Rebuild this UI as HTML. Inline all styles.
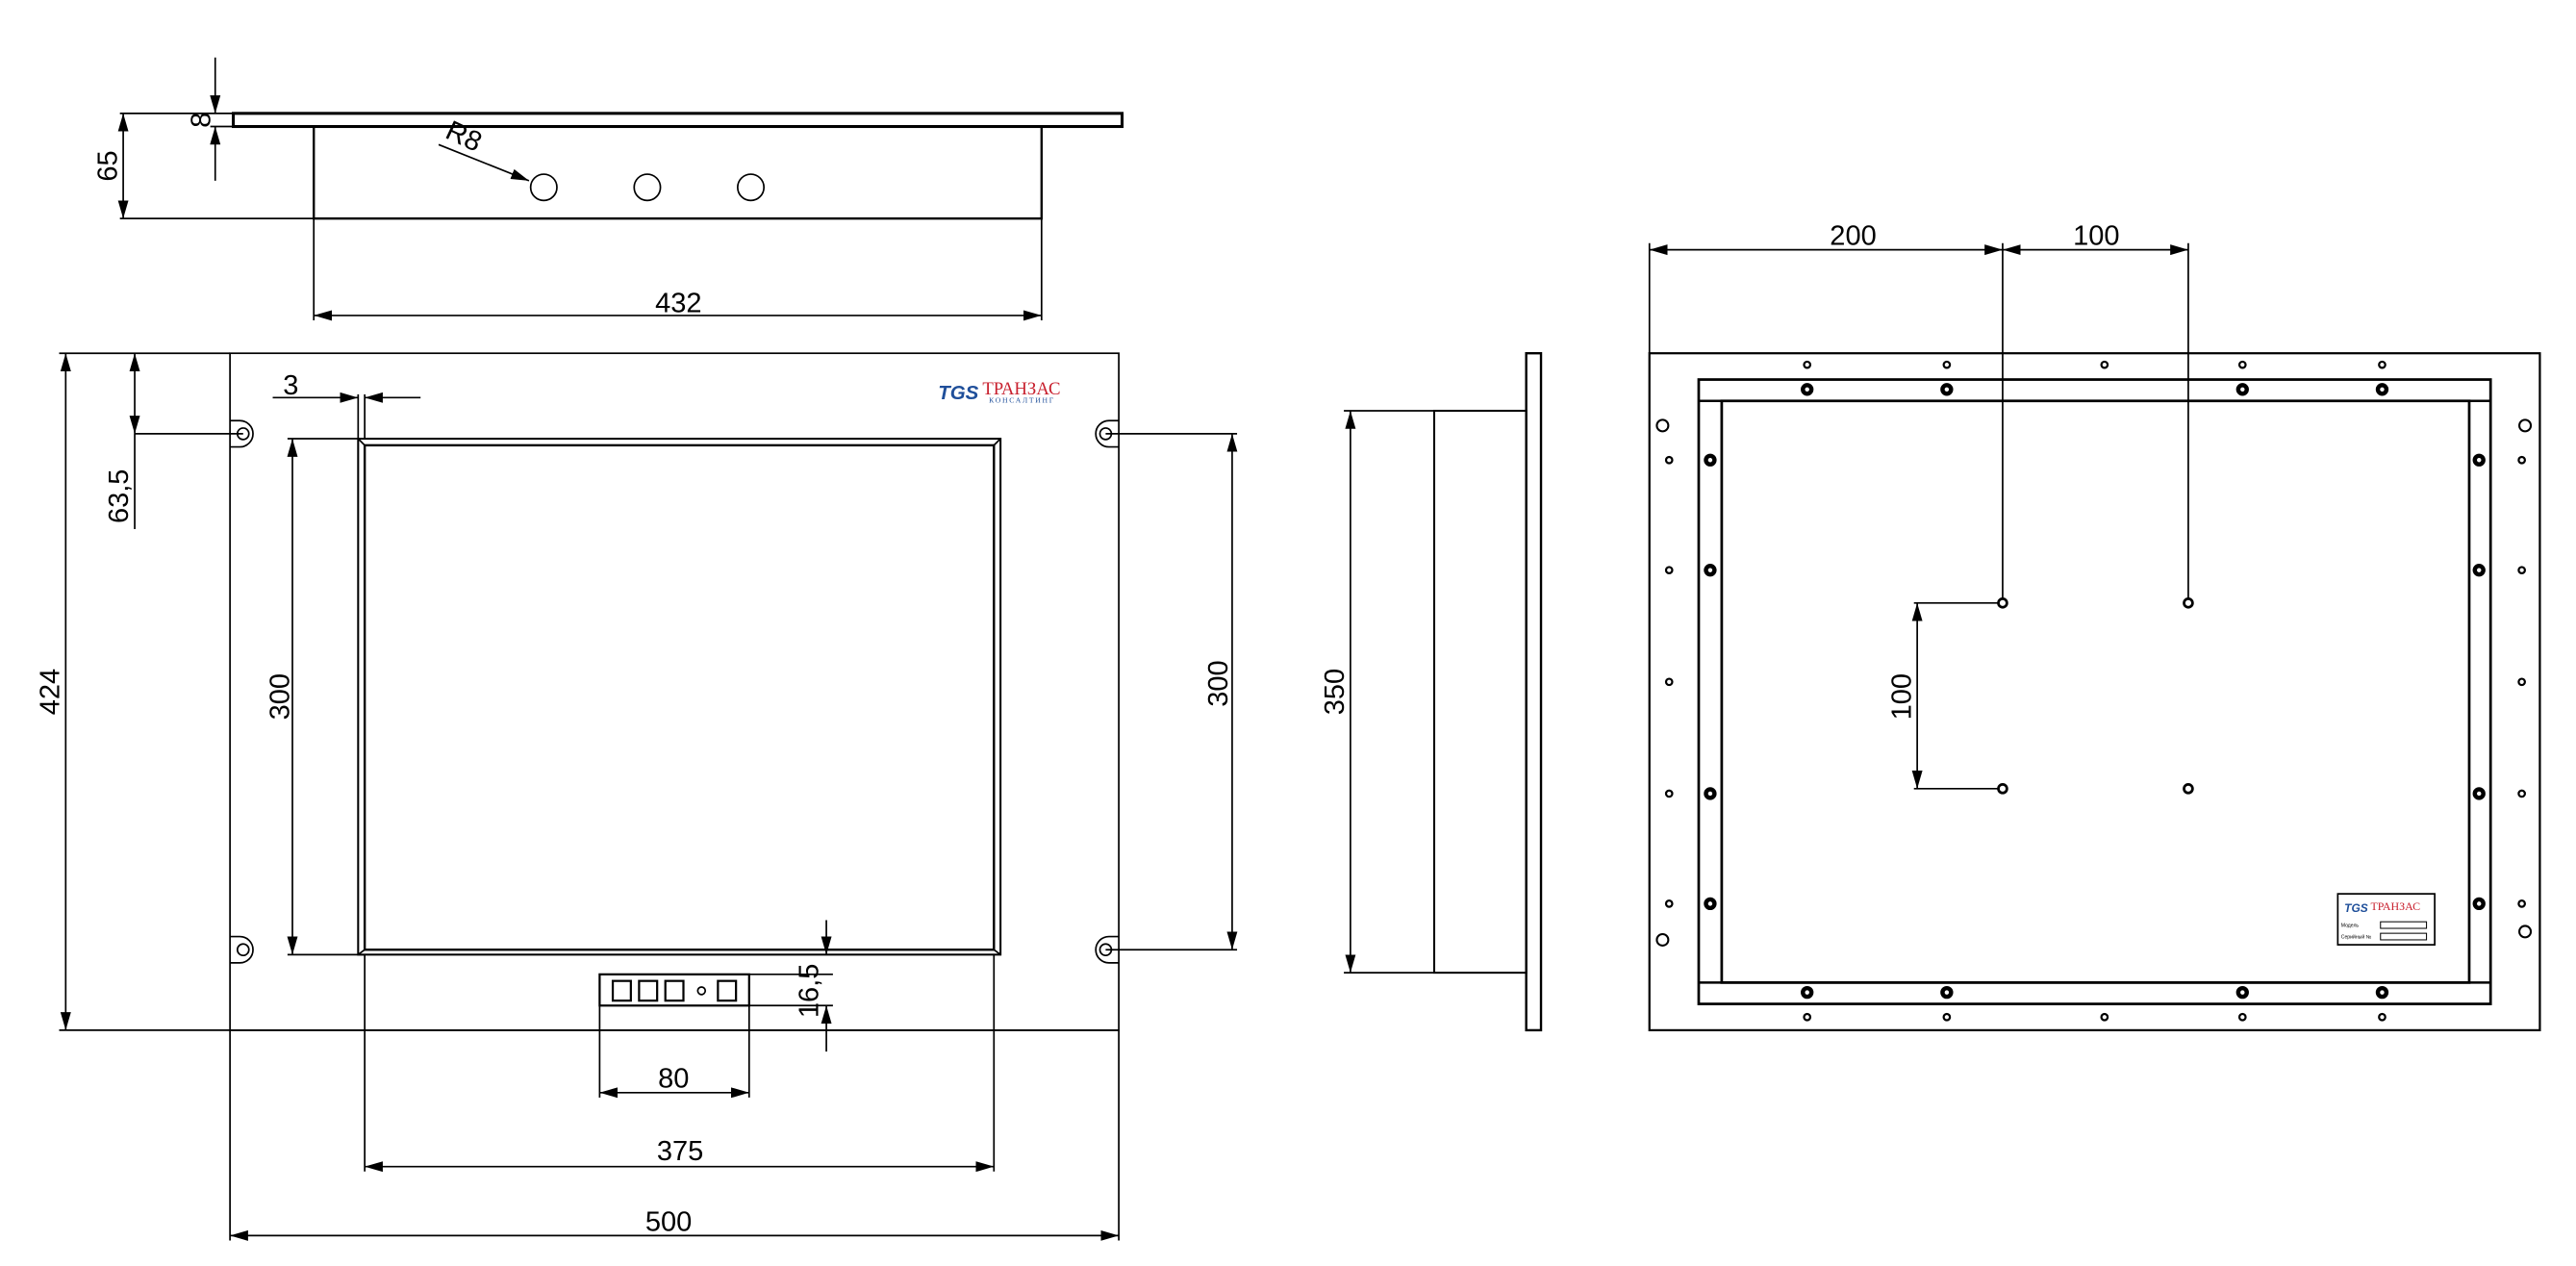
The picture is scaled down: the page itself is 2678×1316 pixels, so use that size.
<!DOCTYPE html>
<html><head><meta charset="utf-8"><style>html,body{margin:0;padding:0;background:#fff}svg{display:block}</style></head><body>
<svg xmlns="http://www.w3.org/2000/svg" width="2678" height="1316" viewBox="0 0 1568 770.5" preserveAspectRatio="none">
<defs>
<marker id="a" markerUnits="userSpaceOnUse" markerWidth="12" markerHeight="8" refX="11" refY="4" orient="auto-start-reverse"><path d="M0,0.8 L11,4 L0,7.2 Z" fill="#000"/></marker>
</defs>
<g fill="none" stroke="#000" stroke-width="1" font-family="Liberation Sans, Arial, sans-serif">
<!-- TOP VIEW -->
<rect x="142" y="69" width="541" height="8" stroke-width="1.8"/>
<rect x="191" y="77" width="443" height="56" stroke-width="1.4"/>
<circle cx="331" cy="114" r="8"/><circle cx="394" cy="114" r="8"/><circle cx="457" cy="114" r="8"/>
<line x1="73" y1="69" x2="142" y2="69"/><line x1="73" y1="133" x2="191" y2="133"/>
<line x1="75" y1="69" x2="75" y2="133" marker-start="url(#a)" marker-end="url(#a)"/>
<line x1="131" y1="35" x2="131" y2="69" marker-end="url(#a)"/>
<line x1="131" y1="110" x2="131" y2="77" marker-end="url(#a)"/>
<line x1="128" y1="77" x2="142" y2="77"/>
<line x1="267" y1="88" x2="322" y2="110" marker-end="url(#a)"/>
<line x1="191" y1="133" x2="191" y2="195"/><line x1="634" y1="133" x2="634" y2="195"/>
<line x1="191" y1="192" x2="634" y2="192" marker-start="url(#a)" marker-end="url(#a)"/>
<!-- FRONT VIEW -->
<rect x="140" y="215" width="541" height="412"/>
<line x1="36" y1="215" x2="140" y2="215"/><line x1="36" y1="627" x2="140" y2="627"/>
<line x1="40" y1="215" x2="40" y2="627" marker-start="url(#a)" marker-end="url(#a)"/>
<line x1="82" y1="215" x2="82" y2="264" marker-start="url(#a)" marker-end="url(#a)"/>
<line x1="82" y1="264" x2="82" y2="322"/><line x1="82" y1="264" x2="148" y2="264"/>
<rect x="218" y="267" width="391" height="314" stroke-width="1.2"/>
<rect x="222" y="271" width="383" height="307" stroke-width="1.4"/>
<line x1="218" y1="267" x2="222" y2="271"/><line x1="609" y1="267" x2="605" y2="271"/><line x1="218" y1="581" x2="222" y2="578"/><line x1="609" y1="581" x2="605" y2="578"/>
<line x1="175" y1="267" x2="218" y2="267"/><line x1="175" y1="581" x2="222" y2="581"/>
<line x1="178" y1="267" x2="178" y2="581" marker-start="url(#a)" marker-end="url(#a)"/>
<line x1="218" y1="240" x2="218" y2="267"/><line x1="222" y1="240" x2="222" y2="267"/>
<line x1="166" y1="242" x2="218" y2="242" marker-end="url(#a)"/>
<line x1="256" y1="242" x2="222" y2="242" marker-end="url(#a)"/>
<g>
<path d="M140,256 h6 a8,8 0 0 1 0,16 h-6"/><circle cx="148" cy="264" r="3.5"/>
<path d="M140,570 h6 a8,8 0 0 1 0,16 h-6"/><circle cx="148" cy="578" r="3.5"/>
<path d="M681,256 h-6 a8,8 0 0 0 0,16 h6"/><circle cx="673" cy="264" r="3.5"/>
<path d="M681,570 h-6 a8,8 0 0 0 0,16 h6"/><circle cx="673" cy="578" r="3.5"/>
</g>
<line x1="673" y1="264" x2="753" y2="264"/><line x1="673" y1="578" x2="753" y2="578"/>
<line x1="750" y1="264" x2="750" y2="578" marker-start="url(#a)" marker-end="url(#a)"/>
<rect x="365" y="593" width="91" height="19" stroke-width="1.3"/>
<rect x="373" y="597" width="11" height="12" stroke-width="1.3"/><rect x="389" y="597" width="11" height="12" stroke-width="1.3"/><rect x="405" y="597" width="11" height="12" stroke-width="1.3"/>
<circle cx="427" cy="603" r="2.3"/><rect x="437" y="597" width="11" height="12" stroke-width="1.3"/>
<line x1="456" y1="593" x2="507" y2="593"/><line x1="456" y1="612" x2="507" y2="612"/>
<line x1="503" y1="560" x2="503" y2="581" marker-end="url(#a)"/>
<line x1="503" y1="640" x2="503" y2="612" marker-end="url(#a)"/>
<line x1="365" y1="612" x2="365" y2="668"/><line x1="456" y1="612" x2="456" y2="668"/>
<line x1="365" y1="665" x2="456" y2="665" marker-start="url(#a)" marker-end="url(#a)"/>
<line x1="222" y1="581" x2="222" y2="713"/><line x1="605" y1="581" x2="605" y2="713"/>
<line x1="222" y1="710" x2="605" y2="710" marker-start="url(#a)" marker-end="url(#a)"/>
<line x1="140" y1="627" x2="140" y2="755"/><line x1="681" y1="627" x2="681" y2="755"/>
<line x1="140" y1="627" x2="681" y2="627"/>
<line x1="140" y1="752" x2="681" y2="752" marker-start="url(#a)" marker-end="url(#a)"/>
<!-- SIDE VIEW -->
<rect x="929" y="215" width="9" height="412" stroke-width="1.4"/>
<rect x="873" y="250" width="56" height="342" stroke-width="1.2"/>
<line x1="818" y1="250" x2="873" y2="250"/><line x1="818" y1="592" x2="873" y2="592"/>
<line x1="822" y1="250" x2="822" y2="592" marker-start="url(#a)" marker-end="url(#a)"/>
<!-- BACK VIEW -->
<rect x="1004" y="215" width="542" height="412" stroke-width="1.3"/>
<rect x="1034" y="231" width="482" height="380" stroke-width="1.6"/>
<rect x="1048" y="244" width="455" height="354" stroke-width="1.6"/>
<line x1="1034" y1="244" x2="1516" y2="244" stroke-width="1.4"/><line x1="1034" y1="598" x2="1516" y2="598" stroke-width="1.4"/>
<line x1="1004" y1="148" x2="1004" y2="215"/><line x1="1219" y1="148" x2="1219" y2="367"/><line x1="1332" y1="148" x2="1332" y2="367"/>
<line x1="1004" y1="152" x2="1219" y2="152" marker-start="url(#a)" marker-end="url(#a)"/>
<line x1="1219" y1="152" x2="1332" y2="152" marker-start="url(#a)" marker-end="url(#a)"/>
<line x1="1165" y1="367" x2="1219" y2="367"/><line x1="1165" y1="480" x2="1219" y2="480"/>
<line x1="1167" y1="367" x2="1167" y2="480" marker-start="url(#a)" marker-end="url(#a)"/>
<g stroke-width="1.2">
<circle cx="1012" cy="259" r="3.5"/><circle cx="1012" cy="572" r="3.5"/><circle cx="1537" cy="259" r="3.5"/><circle cx="1537" cy="567" r="3.5"/>
</g>
<g fill="#fff" stroke-width="2.6">
<circle cx="1100" cy="237" r="2.6"/><circle cx="1185" cy="237" r="2.6"/><circle cx="1365" cy="237" r="2.6"/><circle cx="1450" cy="237" r="2.6"/>
<circle cx="1100" cy="604" r="2.6"/><circle cx="1185" cy="604" r="2.6"/><circle cx="1365" cy="604" r="2.6"/><circle cx="1450" cy="604" r="2.6"/>
<circle cx="1041" cy="280" r="2.6"/><circle cx="1041" cy="347" r="2.6"/><circle cx="1041" cy="483" r="2.6"/><circle cx="1041" cy="550" r="2.6"/>
<circle cx="1509" cy="280" r="2.6"/><circle cx="1509" cy="347" r="2.6"/><circle cx="1509" cy="483" r="2.6"/><circle cx="1509" cy="550" r="2.6"/>
</g>
<g fill="#fff" stroke-width="1.6">
<circle cx="1219" cy="367" r="2.6"/><circle cx="1332" cy="367" r="2.6"/><circle cx="1219" cy="480" r="2.6"/><circle cx="1332" cy="480" r="2.6"/>
</g>
<g stroke-width="1.3">
<circle cx="1100" cy="222" r="1.9"/><circle cx="1185" cy="222" r="1.9"/><circle cx="1281" cy="222" r="1.9"/><circle cx="1365" cy="222" r="1.9"/><circle cx="1450" cy="222" r="1.9"/>
<circle cx="1100" cy="619" r="1.9"/><circle cx="1185" cy="619" r="1.9"/><circle cx="1281" cy="619" r="1.9"/><circle cx="1365" cy="619" r="1.9"/><circle cx="1450" cy="619" r="1.9"/>
<circle cx="1016" cy="280" r="1.9"/><circle cx="1016" cy="347" r="1.9"/><circle cx="1016" cy="415" r="1.9"/><circle cx="1016" cy="483" r="1.9"/><circle cx="1016" cy="550" r="1.9"/>
<circle cx="1535" cy="280" r="1.9"/><circle cx="1535" cy="347" r="1.9"/><circle cx="1535" cy="415" r="1.9"/><circle cx="1535" cy="483" r="1.9"/><circle cx="1535" cy="550" r="1.9"/>
</g>
<rect x="1423" y="544" width="59" height="31" stroke-width="1"/>
<rect x="1449" y="561" width="28" height="4" stroke-width="0.6"/><rect x="1449" y="568" width="28" height="4" stroke-width="0.6"/>
</g>
<g font-family="Liberation Sans, Arial, sans-serif" font-size="17" fill="#000" text-anchor="middle">
<text x="413" y="190">432</text>
<text transform="translate(71,101) rotate(-90)">65</text>
<text transform="translate(128,73) rotate(-90)">8</text>
<text transform="translate(280,88) rotate(25)">R8</text>
<text transform="translate(36,421) rotate(-90)">424</text>
<text transform="translate(78,302) rotate(-90)">63,5</text>
<text x="177" y="240">3</text>
<text transform="translate(176,424) rotate(-90)">300</text>
<text transform="translate(747,416) rotate(-90)">300</text>
<text transform="translate(498,603) rotate(-90)">16,5</text>
<text x="410" y="662">80</text>
<text x="414" y="706">375</text>
<text x="407" y="749">500</text>
<text transform="translate(818,421) rotate(-90)">350</text>
<text x="1128" y="149">200</text>
<text x="1276" y="149">100</text>
<text transform="translate(1163,424) rotate(-90)">100</text>
</g>
<g font-family="Liberation Serif, serif">
<text x="571" y="243" font-size="12" font-weight="bold" font-style="italic" fill="#1f4f9a" font-family="Liberation Sans, sans-serif">TGS</text>
<text x="598" y="240" font-size="11" fill="#c8202e" font-family="Liberation Serif, 'Noto Serif CJK SC', serif">ТРАНЗАС</text>
<text x="602" y="245" font-size="4.5" fill="#1f4f9a" letter-spacing="1" font-family="Liberation Serif, 'Noto Serif CJK SC', serif">КОНСАЛТИНГ</text>
<text x="1427" y="555" font-size="7" font-weight="bold" font-style="italic" fill="#1f4f9a" font-family="Liberation Sans, sans-serif">TGS</text>
<text x="1443" y="554" font-size="7" fill="#c8202e" font-family="Liberation Serif, 'Noto Serif CJK SC', serif">ТРАНЗАС</text>
<text x="1425" y="564" font-size="3" fill="#000" font-family="Liberation Sans, 'Noto Sans CJK SC', sans-serif">Модель</text>
<text x="1425" y="571" font-size="3" fill="#000" font-family="Liberation Sans, 'Noto Sans CJK SC', sans-serif">Серийный №</text>
</g>
</svg>
</body></html>
